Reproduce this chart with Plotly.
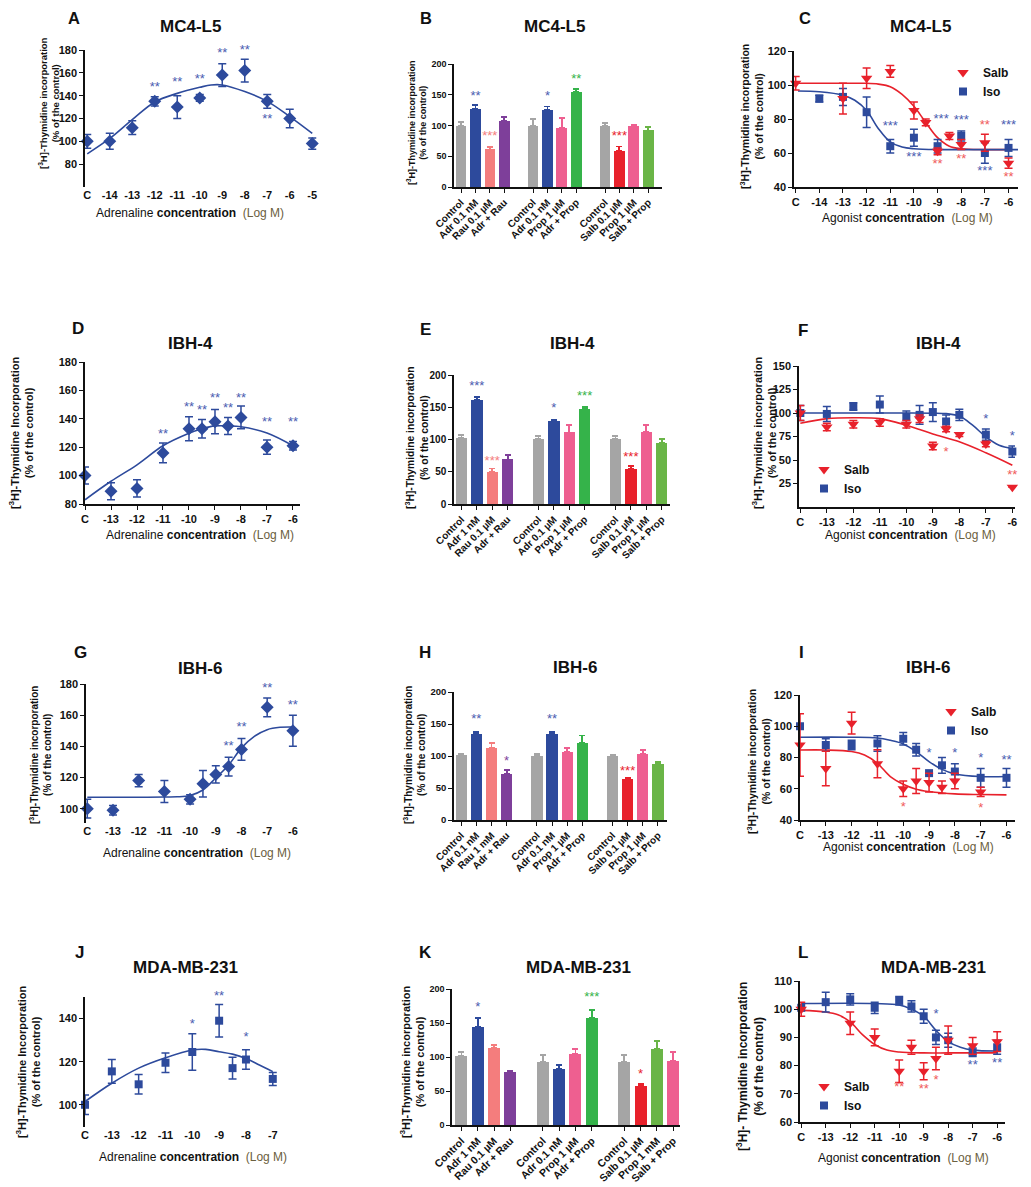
import plotly.graph_objects as go

# the page adds an 8px body margin, so the figure is drawn 8px in from the corner
OFF = 8
W, H = 1031 - OFF, 1187 - OFF
FONT = "Liberation Sans, Arial, sans-serif"
BLACK = "#111111"
BLUE = "#2d4a9c"
RED = "#e8212b"
GREY = "#a5a5a5"
SALMON = "#f47d7d"
PURPLE = "#7e3f9a"
PINK = "#ee5f90"
GREEN = "#35b34a"
GREEN2 = "#6ab547"
STAR_BLUE = "#4a5cb0"
STAR_RED = "#f05a5a"

# %% data ----------------------------------------------------------------
# A  MC4-L5, adrenaline
A_x = [-15, -14, -13, -12, -11, -10, -9, -8, -7, -6, -5]
A_y = [100, 100, 112, 135, 130, 138, 158, 162, 135, 120, 98]
A_err = [6, 7, 6, 4, 10, 3, 10, 10, 6, 8, 5]
A_fit_x = [-15, -14, -13, -12, -11, -10, -9.5, -9, -8, -7, -6, -5]
A_fit_y = [89, 102.5, 119, 134.5, 142, 147.3, 149.4, 149.4, 143.6, 135, 121.7, 107]
A_star_x = [-12, -11, -10, -9, -8, -7]
A_star_y = [147, 151, 154, 177, 179, 119]
A_star_t = ["**", "**", "**", "**", "**", "**"]

# bar panels share the same slots
BAR_POS = [0, 1, 2, 3, 5, 6, 7, 8, 10, 11, 12, 13]

# B  MC4-L5, antagonists
B_labels = ["Control", "Adr 0.1 nM", "Rau 0.1 µM", "Adr + Rau",
            "Control", "Adr 0.1 nM", "Prop 1 µM", "Adr + Prop",
            "Control", "Salb 0.1 µM", "Prop 1 µM", "Salb + Prop"]
B_y = [100, 127, 61, 108, 100, 125, 96, 154, 100, 59, 100, 92]
B_err = [6, 6, 4, 6, 10, 6, 16, 6, 4, 7, 1, 6]
B_colors = [GREY, BLUE, SALMON, PURPLE, GREY, BLUE, PINK, GREEN, GREY, RED, PINK, GREEN2]
B_star_x = [1, 2, 6, 8, 11]
B_star_y = [146, 82, 146, 174, 81]
B_star_t = ["**", "***", "*", "**", "***"]
B_star_c = [STAR_BLUE, SALMON, STAR_BLUE, GREEN, RED]

# C  MC4-L5, agonists
C_salb_x = [-15, -13, -12, -11, -10, -9.5, -9, -8.5, -8, -7, -6]
C_salb_y = [101, 92, 104, 108, 85, 78, 61, 70, 65, 66, 54]
C_salb_err = [4, 9, 6, 3.5, 5, 2, 2, 2, 3, 5, 3]
C_iso_x = [-14, -13, -12, -11, -10, -9, -8, -7, -6]
C_iso_y = [92, 93, 84, 64, 69, 64, 70, 60, 63]
C_iso_err = [2, 5, 9, 4, 5, 4, 3, 6, 5]
C_salb_fit_x = [-15, -14, -13, -12, -11.5, -11, -10.5, -10, -9.5, -9, -8.5, -8, -7, -6]
C_salb_fit_y = [101, 101, 101, 101, 100.5, 99, 94.5, 87.5, 78, 69, 64, 62.5, 62, 62]
C_iso_fit_x = [-14.9, -14, -13, -12.5, -12, -11.5, -11, -10.5, -10, -9, -8, -7, -6, -5.6]
C_iso_fit_y = [96.5, 96, 94, 91, 85, 74.3, 66.5, 63.5, 62.5, 62, 62, 62, 62, 62]
C_star_x = [-11, -10, -8.85, -8, -7, -6, -9, -8, -7, -6]
C_star_y = [75.3, 57.5, 79.6, 79, 49, 76, 53, 56, 76, 45.5]
C_star_t = ["***", "***", "***", "***", "***", "***", "**", "**", "**", "**"]
C_star_c = [STAR_BLUE] * 6 + [STAR_RED] * 4

# D  IBH-4, adrenaline
D_x = [-14, -13, -12, -11, -10, -9.5, -9, -8.5, -8, -7, -6]
D_y = [100, 89, 91, 116, 133, 133, 138, 135, 141, 120, 121]
D_err = [6, 6, 6, 7, 8.5, 6.5, 8.5, 6, 8, 5, 3]
D_fit_x = [-14, -13, -12, -11, -10, -9.5, -9, -8.5, -8, -7, -6]
D_fit_y = [83, 96, 107.6, 121, 129.8, 133, 135, 135, 134.4, 130, 121]
D_star_x = [-11, -10, -9.5, -9, -8.5, -8, -7, -6]
D_star_y = [129, 148, 146, 154, 147, 154, 137, 137]
D_star_t = ["**"] * 8

# E  IBH-4, antagonists
E_labels = ["Control", "Adr 1 nM", "Rau 0.1 µM", "Adr + Rau",
            "Control", "Adr 0.1 µM", "Prop 1 µM", "Adr + Prop",
            "Control", "Salb 0.1 µM", "Prop 1 µM", "Salb + Prop"]
E_y = [102, 161, 49, 69, 101, 128, 111, 148, 101, 54, 112, 95]
E_err = [5, 5, 6, 7, 5, 2, 11, 3, 5, 5, 10, 6]
E_colors = [GREY, BLUE, SALMON, PURPLE, GREY, BLUE, PINK, GREEN, GREY, RED, PINK, GREEN2]
E_star_x = [1, 2, 6, 8, 11]
E_star_y = [182, 66, 147, 166, 71]
E_star_t = ["***", "***", "*", "***", "***"]
E_star_c = [STAR_BLUE, SALMON, STAR_BLUE, GREEN, RED]

# F  IBH-4, agonists
F_salb_x = [-14, -13, -12, -11, -10, -9.5, -9, -8.5, -8, -7, -6]
F_salb_y = [100, 85, 88, 90, 88, 94, 65, 83, 77, 67, 21]
F_salb_err = [8, 4, 4, 4, 4, 4, 4, 3, 2, 3, 0]
F_iso_x = [-14, -13, -12, -11, -10, -9.5, -9, -8.5, -8, -7, -6]
F_iso_y = [100, 99, 107, 109, 96, 98, 101, 91, 98, 77, 59]
F_iso_err = [8, 8, 4, 9, 6, 10, 10, 7, 6, 6, 6]
F_salb_fit_x = [-14, -13, -12, -11, -10, -9.5, -9, -8, -7, -6]
F_salb_fit_y = [89, 94, 95, 94, 87, 82.5, 77.6, 69.4, 57.7, 44.5]
F_iso_fit_x = [-14, -12, -10, -9, -8.5, -8, -7.5, -7, -6.5, -6]
F_iso_fit_y = [100, 100, 100, 99.8, 99.3, 96.7, 87, 74.7, 65.8, 62.3]
F_star_x = [-7, -6, -8.5, -6]
F_star_y = [92.5, 74.7, 57.7, 33]
F_star_t = ["*", "*", "*", "**"]
F_star_c = [STAR_BLUE, STAR_BLUE, STAR_RED, STAR_RED]

# G  IBH-6, adrenaline
G_x = [-14, -13, -12, -11, -10, -9.5, -9, -8.5, -8, -7, -6]
G_y = [100, 99, 118, 111, 106, 116, 122, 127, 138, 165, 150]
G_err = [6, 3, 4, 7, 3, 8.5, 5.5, 6, 7, 6, 10]
G_fit_x = [-14, -13, -12, -11, -10.5, -10, -9.5, -9, -8.5, -8, -7.5, -7, -6.5, -6]
G_fit_y = [107.3, 107.3, 107.3, 107.5, 107.6, 108.5, 112, 119.7, 128, 139, 146.4, 150.7, 152.2, 152.4]
G_star_x = [-8.5, -8, -7, -6]
G_star_y = [140, 152, 177, 166]
G_star_t = ["**"] * 4

# H  IBH-6, antagonists
H_labels = ["Control", "Adr 0.1 nM", "Rau 1 mM", "Adr + Rau",
            "Control", "Adr 0.1 nM", "Prop 1 µM", "Adr + Prop",
            "Control", "Salb 0.1 µM", "Prop 1 µM", "Salb + Prop"]
H_y = [101, 134, 113, 72, 100, 134, 107, 120, 100, 64, 103, 88]
H_err = [3, 3, 7, 6, 3, 3, 6, 12, 2, 2, 6, 3]
H_colors = [GREY, BLUE, SALMON, PURPLE, GREY, BLUE, PINK, GREEN, GREY, RED, PINK, GREEN2]
H_star_x = [1, 3, 6, 11]
H_star_y = [156, 91, 156, 76]
H_star_t = ["**", "*", "**", "***"]
H_star_c = [STAR_BLUE, PURPLE, STAR_BLUE, RED]

# I  IBH-6, agonists
I_salb_x = [-14, -13, -12, -11, -10, -9.5, -9, -8.5, -8, -7]
I_salb_y = [88, 73, 102, 76, 60, 65, 64, 61, 65, 58]
I_salb_err = [20, 11, 7, 9, 5, 8, 6, 4, 5, 3]
I_iso_x = [-14, -13, -12, -11, -10, -9.5, -9, -8.5, -8, -7, -6]
I_iso_y = [100, 88, 88, 89, 92, 85, 70, 75, 71, 67, 67]
I_iso_err = [0, 4, 3, 5, 4, 4, 0, 5, 5, 6, 6]
I_salb_fit_x = [-14, -13, -12, -11.5, -11, -10.5, -10, -9.5, -9, -8, -7, -6]
I_salb_fit_y = [84.8, 84.8, 83.8, 81.6, 76.3, 67.8, 62.9, 59.7, 58.2, 56.7, 56.3, 56.1]
I_iso_fit_x = [-14, -12, -11, -10.5, -10, -9.5, -9, -8.5, -8, -7, -6]
I_iso_fit_y = [93, 93, 92.5, 91, 88.7, 83.8, 77.4, 72.4, 69.5, 67.8, 67.8]
I_star_x = [-9, -8, -7, -6, -10, -7]
I_star_y = [82.7, 82.7, 79, 78, 48, 47]
I_star_t = ["*", "*", "*", "**", "*", "*"]
I_star_c = [STAR_BLUE] * 4 + [STAR_RED] * 2

# J  MDA-MB-231, adrenaline
J_x = [-14, -13, -12, -11, -10, -9, -8.5, -8, -7]
J_y = [100, 115.5, 109.5, 119.5, 124.5, 139, 117, 121, 112]
J_err = [4.5, 5.5, 4.5, 4.5, 8.5, 7.5, 5, 4.5, 3]
J_fit_x = [-14, -13, -12, -11, -10, -9.5, -9, -8.5, -8, -7.5, -7]
J_fit_y = [101.5, 110, 117, 121.8, 125.4, 125.7, 124.6, 123.5, 121.5, 118.5, 115.4]
J_star_x = [-10, -9, -8]
J_star_y = [137, 150, 131]
J_star_t = ["*", "**", "*"]

# K  MDA-MB-231, antagonists
K_labels = ["Control", "Adr 1 nM", "Rau 0.1 µM", "Adr + Rau",
            "Control", "Adr 0.1 nM", "Prop 1 µM", "Adr + Prop",
            "Control", "Salb 0.1 µM", "Prop 1 mM", "Salb + Prop"]
K_y = [102, 144, 113, 78, 93, 83, 105, 158, 93, 58, 112, 94]
K_err = [5, 13, 5, 2, 10, 5, 7, 11, 10, 2, 11, 13]
K_colors = [GREY, BLUE, SALMON, PURPLE, GREY, BLUE, PINK, GREEN, GREY, RED, GREEN2, PINK]
K_star_x = [1, 8, 11]
K_star_y = [172, 187, 74]
K_star_t = ["*", "***", "*"]
K_star_c = [STAR_BLUE, GREEN, RED]

# L  MDA-MB-231, agonists
L_salb_x = [-14, -12, -11, -10, -9.5, -9, -8.5, -8, -7, -6]
L_salb_y = [100, 95, 90, 78, 86.5, 78, 82.5, 89, 87, 88.5]
L_salb_err = [2.5, 4, 3, 4, 2.5, 3, 4, 5, 3, 3.5]
L_iso_x = [-14, -13, -12, -11, -10, -9.5, -9, -8.5, -8, -7, -6]
L_iso_y = [100.5, 102.5, 103.5, 100.5, 103, 101, 97.5, 90, 89, 84.7, 86.5]
L_iso_err = [0, 3.5, 2, 2, 1.5, 2, 2.5, 2.5, 2.5, 1.5, 2.5]
L_salb_fit_x = [-14, -13, -12.5, -12, -11.5, -11, -10.5, -10, -9, -8, -7, -6]
L_salb_fit_y = [99.6, 99, 98, 95.5, 91, 87.5, 85.5, 84.8, 84.5, 84.5, 84.5, 84.5]
L_iso_fit_x = [-14, -11, -10, -9.5, -9, -8.5, -8, -7.5, -7, -6]
L_iso_fit_y = [102, 102, 101.5, 100, 97.5, 92.5, 88.5, 86.5, 85.5, 85.2]
L_star_x = [-8.5, -7, -6, -10, -9, -8.5]
L_star_y = [98, 80, 80.6, 72, 71.5, 74.7]
L_star_t = ["*", "**", "**", "**", "**", "*"]
L_star_c = [STAR_BLUE] * 3 + [STAR_RED] * 3

# %% figure helpers -------------------------------------------------------
fig = go.Figure()


def fx(px):
    return (px - OFF) / W


def fy(py):
    return 1 - (py - OFF) / H


def ref(k):
    return ("x", "y") if k == 1 else (f"x{k}", f"y{k}")


def set_axes(k, box, xr, yr, ytv, xtv, xtt, xline=True, ysize=11, xsize=11, xangle=0):
    x0, x1, ytop, ybot = box
    xa = dict(domain=[fx(x0), fx(x1)], range=xr, anchor=ref(k)[1], automargin=False,
              showgrid=False, zeroline=False, showline=xline,
              linecolor=BLACK, linewidth=1.5,
              ticks="outside" if xline else "", ticklen=4, tickwidth=1.2, tickcolor=BLACK,
              tickmode="array", tickvals=xtv, ticktext=xtt, tickangle=xangle,
              tickfont=dict(family=FONT, size=xsize, color=BLACK, weight="bold"))
    ya = dict(domain=[fy(ybot), fy(ytop)], range=yr, anchor=ref(k)[0], automargin=False,
              showgrid=False, zeroline=False, showline=True,
              linecolor=BLACK, linewidth=1.5,
              ticks="outside", ticklen=4, tickwidth=1.2, tickcolor=BLACK,
              tickmode="array", tickvals=ytv,
              tickfont=dict(family=FONT, size=ysize, color=BLACK, weight="bold"))
    fig.update_layout({("xaxis" if k == 1 else f"xaxis{k}"): xa,
                       ("yaxis" if k == 1 else f"yaxis{k}"): ya})


def note(text, px, py, size, bold=True, color=BLACK, angle=0):
    fig.add_annotation(text=text, x=fx(px), y=fy(py), xref="paper", yref="paper",
                       xanchor="center", yanchor="middle", showarrow=False,
                       textangle=angle,
                       font=dict(family=FONT, size=size, color=color,
                                 weight="bold" if bold else "normal"))


def stars(k, xs, ys, texts, colors):
    xa, ya = ref(k)
    fig.add_trace(go.Scatter(x=xs, y=ys, text=texts, mode="text", xaxis=xa, yaxis=ya,
                             textfont=dict(family=FONT, size=13, color=colors),
                             cliponaxis=False, showlegend=False, hoverinfo="skip"))


def points(k, xs, ys, err, color, symbol, size, name=None, legend=None):
    xa, ya = ref(k)
    fig.add_trace(go.Scatter(
        x=xs, y=ys, mode="markers", xaxis=xa, yaxis=ya, name=name,
        marker=dict(color=color, symbol=symbol, size=size, line=dict(width=0)),
        error_y=dict(type="data", array=err, color=color, thickness=1.5, width=4),
        cliponaxis=False, showlegend=name is not None,
        legend=legend if legend else "legend"))


def curve(k, xs, ys, color):
    xa, ya = ref(k)
    fig.add_trace(go.Scatter(x=xs, y=ys, mode="lines", xaxis=xa, yaxis=ya,
                             line=dict(color=color, width=1.6, shape="spline", smoothing=1.0),
                             cliponaxis=False, showlegend=False, hoverinfo="skip"))


def bars(k, ys, errs, colors):
    xa, ya = ref(k)
    for p, v, e, c in zip(BAR_POS, ys, errs, colors):
        fig.add_trace(go.Bar(x=[p], y=[v], width=0.74, xaxis=xa, yaxis=ya,
                             marker=dict(color=c, line=dict(width=0)),
                             error_y=dict(type="data", array=[e], arrayminus=[0],
                                          symmetric=False, color=c, thickness=1.8, width=3),
                             showlegend=False))


def ytitle(line1, px, py, size):
    note(line1 + "<br>(% of the control)", px, py, size, angle=-90)


def xtitle(first, px, py):
    note(first + " <b>concentration</b>\u00a0\u00a0"
         "<span style='color:#6b6040'>(Log M)</span>", px, py, 12, bold=False)


TH = "[<sup>3</sup>H]-Thymidine "
LOG_C15 = ["C"] + [str(v) for v in range(-14, -4)]
LOG_VALS15 = list(range(-15, -4))

# %% A -------------------------------------------------------------------
set_axes(1, (85, 319, 50, 187), [-15.1, -4.7], [60, 180], [80, 100, 120, 140, 160, 180],
         LOG_VALS15, LOG_C15, xline=False)
curve(1, A_fit_x, A_fit_y, BLUE)
points(1, A_x, A_y, A_err, BLUE, "diamond", 10)
stars(1, A_star_x, A_star_y, A_star_t, STAR_BLUE)
note("A", 74, 18, 16.5)
note("MC4-L5", 190, 27, 17)
ytitle(TH + "incorporation", 49, 103, 9.5)
xtitle("Adrenaline", 190, 213)

# %% B -------------------------------------------------------------------
set_axes(2, (454, 662, 64, 187), [-0.49, 13.96], [0, 200], [0, 50, 100, 150, 200],
         BAR_POS, B_labels, ysize=9, xsize=10, xangle=-45)
bars(2, B_y, B_err, B_colors)
stars(2, B_star_x, B_star_y, B_star_t, B_star_c)
note("B", 426, 18, 16.5)
note("MC4-L5", 554, 27, 17)
ytitle(TH + "incorporation", 416, 123, 9)

# %% C -------------------------------------------------------------------
set_axes(3, (794, 1018, 51, 187), [-15.07, -5.6], [40, 120], [40, 60, 80, 100, 120],
         list(range(-15, -5)), ["C"] + [str(v) for v in range(-14, -5)])
curve(3, C_salb_fit_x, C_salb_fit_y, RED)
curve(3, C_iso_fit_x, C_iso_fit_y, BLUE)
points(3, C_iso_x, C_iso_y, C_iso_err, BLUE, "square", 8, "Iso", "legend")
points(3, C_salb_x, C_salb_y, C_salb_err, RED, "triangle-down", 10, "Salb", "legend")
stars(3, C_star_x, C_star_y, C_star_t, C_star_c)
note("C", 805, 18, 16.5)
note("MC4-L5", 920, 27, 17)
ytitle(TH + "incorporation", 752, 117, 10.5)
xtitle("Agonist", 907, 218)

# %% D -------------------------------------------------------------------
LOG_C14 = ["C"] + [str(v) for v in range(-13, -5)]
LOG_VALS14 = list(range(-14, -5))
set_axes(4, (85, 300, 362, 504), [-14.0, -5.73], [80, 180], [80, 100, 120, 140, 160, 180],
         LOG_VALS14, LOG_C14)
curve(4, D_fit_x, D_fit_y, BLUE)
points(4, D_x, D_y, D_err, BLUE, "diamond", 10)
stars(4, D_star_x, D_star_y, D_star_t, STAR_BLUE)
note("D", 78, 328, 17)
note("IBH-4", 190, 343, 17)
ytitle(TH + "Incorporation", 21, 433, 11)
xtitle("Adrenaline", 200, 535)

# %% E -------------------------------------------------------------------
set_axes(5, (454, 670, 375, 504), [-0.48, 13.54], [0, 200], [0, 50, 100, 150, 200],
         BAR_POS, E_labels, ysize=10, xsize=10, xangle=-45)
bars(5, E_y, E_err, E_colors)
stars(5, E_star_x, E_star_y, E_star_t, E_star_c)
note("E", 425, 329, 17)
note("IBH-4", 572, 343, 17)
ytitle(TH + "incorporation", 416, 438, 10.3)

# %% F -------------------------------------------------------------------
set_axes(6, (799, 1015, 366, 507), [-14.05, -5.9], [0, 150], [25, 50, 75, 100, 125, 150],
         LOG_VALS14, LOG_C14)
curve(6, F_salb_fit_x, F_salb_fit_y, RED)
curve(6, F_iso_fit_x, F_iso_fit_y, BLUE)
points(6, F_iso_x, F_iso_y, F_iso_err, BLUE, "square", 8, "Iso", "legend2")
points(6, F_salb_x, F_salb_y, F_salb_err, RED, "triangle-down", 10, "Salb", "legend2")
stars(6, F_star_x, F_star_y, F_star_t, F_star_c)
note("F", 803, 331, 17)
note("IBH-4", 938, 343, 17)
ytitle(TH + "incorporation", 764, 433, 11)
xtitle("Agonist", 910, 535)

# %% G -------------------------------------------------------------------
set_axes(7, (86, 297, 684, 823), [-14.05, -5.84], [90.8, 180], [100, 120, 140, 160, 180],
         LOG_VALS14, LOG_C14, xline=False)
curve(7, G_fit_x, G_fit_y, BLUE)
points(7, G_x, G_y, G_err, BLUE, "diamond", 10)
stars(7, G_star_x, G_star_y, G_star_t, STAR_BLUE)
note("G", 80, 652, 17)
note("IBH-6", 200, 668, 17)
ytitle(TH + "incorporation", 41, 755, 10)
xtitle("Adrenaline", 197, 853)

# %% H -------------------------------------------------------------------
set_axes(8, (454, 667, 692, 820), [-0.48, 13.6], [0, 200], [0, 50, 100, 150, 200],
         BAR_POS, H_labels, ysize=9.5, xsize=10, xangle=-45)
bars(8, H_y, H_err, H_colors)
stars(8, H_star_x, H_star_y, H_star_t, H_star_c)
note("H", 425, 652, 17)
note("IBH-6", 575, 667, 17)
ytitle(TH + "incorporation", 415, 755, 10)

# %% I -------------------------------------------------------------------
set_axes(9, (800, 1015, 695, 820), [-14.0, -5.67], [40, 120], [40, 60, 80, 100, 120],
         LOG_VALS14, LOG_C14)
curve(9, I_salb_fit_x, I_salb_fit_y, RED)
curve(9, I_iso_fit_x, I_iso_fit_y, BLUE)
points(9, I_iso_x, I_iso_y, I_iso_err, BLUE, "square", 8, "Iso", "legend3")
points(9, I_salb_x, I_salb_y, I_salb_err, RED, "triangle-down", 10, "Salb", "legend3")
stars(9, I_star_x, I_star_y, I_star_t, I_star_c)
note("I", 801, 652, 17)
note("IBH-6", 928, 667, 17)
ytitle(TH + "incorporation", 758, 762, 10.5)
xtitle("Agonist", 908, 847)

# %% J -------------------------------------------------------------------
set_axes(10, (85, 287, 997, 1127), [-14.0, -6.47], [89.7, 150], [100, 120, 140],
         list(range(-14, -6)), ["C"] + [str(v) for v in range(-13, -6)], xline=False)
curve(10, J_fit_x, J_fit_y, BLUE)
points(10, J_x, J_y, J_err, BLUE, "square", 8)
stars(10, J_star_x, J_star_y, J_star_t, STAR_BLUE)
note("J", 79, 952, 17)
note("MDA-MB-231", 185, 967, 17)
ytitle(TH + "Incorporation", 28, 1062, 11)
xtitle("Adrenaline", 193, 1157)

# %% K -------------------------------------------------------------------
set_axes(11, (452, 680, 989, 1125), [-0.58, 13.42], [0, 200], [0, 50, 100, 150, 200],
         BAR_POS, K_labels, ysize=9, xsize=10.5, xangle=-45)
bars(11, K_y, K_err, K_colors)
stars(11, K_star_x, K_star_y, K_star_t, K_star_c)
note("K", 425, 952, 17)
note("MDA-MB-231", 578, 967, 17)
ytitle(TH + "incorporation", 412, 1062, 11)

# %% L -------------------------------------------------------------------
set_axes(12, (800, 1005, 981, 1122), [-14.05, -5.68], [60, 110], [60, 70, 80, 90, 100, 110],
         LOG_VALS14, LOG_C14)
curve(12, L_salb_fit_x, L_salb_fit_y, RED)
curve(12, L_iso_fit_x, L_iso_fit_y, BLUE)
points(12, L_iso_x, L_iso_y, L_iso_err, BLUE, "square", 8, "Iso", "legend4")
points(12, L_salb_x, L_salb_y, L_salb_err, RED, "triangle-down", 10, "Salb", "legend4")
stars(12, L_star_x, L_star_y, L_star_t, L_star_c)
note("L", 803, 952, 17)
note("MDA-MB-231", 933, 967, 17)
ytitle("[<sup>3</sup>H]- Thymidine incorporation", 750, 1067, 12)
xtitle("Agonist", 903, 1158)

# %% legends and layout ---------------------------------------------------
def legend_at(px, py):
    return dict(x=fx(px), y=fy(py), xanchor="left", yanchor="top",
                bgcolor="rgba(0,0,0,0)", borderwidth=0, traceorder="reversed",
                itemclick=False, itemdoubleclick=False,
                font=dict(family=FONT, size=12, color=BLACK, weight="bold"))


fig.update_layout(
    width=W, height=H, autosize=False,
    margin=dict(l=0, r=0, t=0, b=0, autoexpand=False),
    paper_bgcolor="white", plot_bgcolor="white",
    bargap=0, hovermode=False,
    legend=legend_at(943, 58),
    legend2=legend_at(804, 455),
    legend3=legend_at(931, 697),
    legend4=legend_at(804, 1072),
)

fig.write_html("out.html")
